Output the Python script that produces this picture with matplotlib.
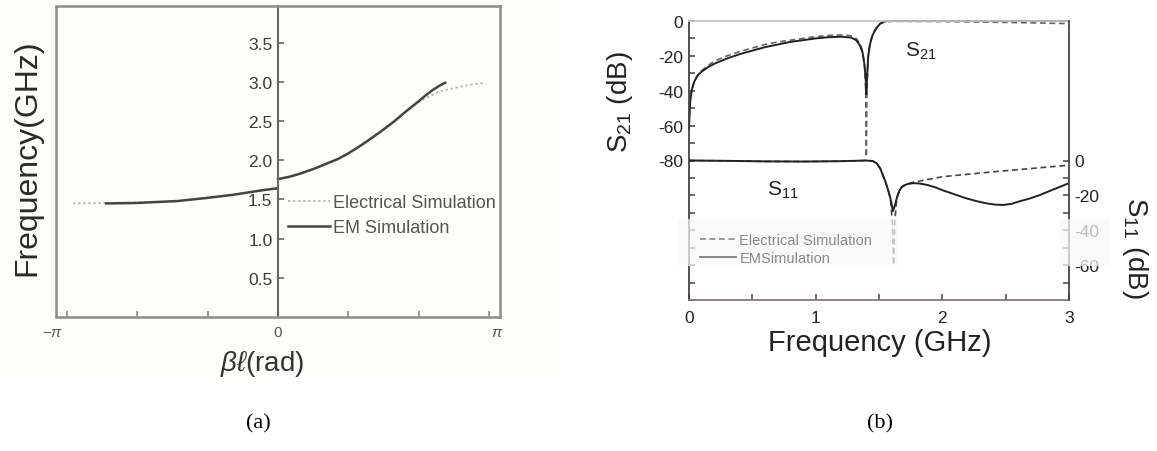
import numpy as np
import matplotlib
matplotlib.use("Agg")
import matplotlib.pyplot as plt
from matplotlib.patches import Rectangle
from matplotlib.transforms import ScaledTranslation

plt.rcParams['font.family'] = ['Liberation Sans', 'DejaVu Sans']
plt.rcParams['mathtext.fontset'] = 'custom'
plt.rcParams['mathtext.rm'] = 'Liberation Sans'
plt.rcParams['mathtext.it'] = 'Liberation Sans:italic'

# ---------------- (a) dispersion diagram ----------------
# left-handed band (negative phase) and right-handed band (positive phase)
beta_lh_circuit = [-3.05, -2.56, -2.13, -1.50, -1.06, -0.67, -0.22, 0.0]
freq_lh_circuit = [1.45, 1.455, 1.46, 1.48, 1.52, 1.56, 1.62, 1.65]
beta_rh_circuit = [0.0, 0.17, 0.33, 0.53, 0.73, 0.90, 1.05, 1.20, 1.32, 1.52, 1.72, 1.90,
                   2.00, 2.13, 2.26, 2.38, 2.50, 2.71, 2.90, 3.08]
freq_rh_circuit = [1.76, 1.79, 1.83, 1.89, 1.96, 2.02, 2.09, 2.17, 2.24, 2.36, 2.49, 2.62,
                   2.69, 2.76, 2.82, 2.87, 2.90, 2.94, 2.97, 2.99]

beta_lh_em = [-2.56, -2.13, -1.50, -1.06, -0.67, -0.22, -0.03]
freq_lh_em = [1.45, 1.455, 1.48, 1.52, 1.56, 1.62, 1.64]
beta_rh_em = [0.0, 0.17, 0.33, 0.53, 0.73, 0.90, 1.05, 1.20, 1.32, 1.52, 1.72, 1.90,
              2.09, 2.20, 2.31, 2.40, 2.49]
freq_rh_em = [1.76, 1.79, 1.83, 1.89, 1.96, 2.02, 2.09, 2.17, 2.24, 2.36, 2.49, 2.62,
              2.75, 2.83, 2.90, 2.95, 2.99]

freq_ticks_a = [0.5, 1.0, 1.5, 2.0, 2.5, 3.0, 3.5]
phase_tick_labels = [r'$-\pi$', '', '', '0', '', '', r'$\pi$']

# ---------------- (b) S-parameters ----------------
f_s21_em = [0, 0.005, 0.01, 0.02, 0.04, 0.07, 0.1, 0.15, 0.2, 0.3, 0.4, 0.5, 0.6,
            0.7, 0.8, 0.9, 1.0, 1.1, 1.2, 1.28, 1.32, 1.35, 1.37, 1.385, 1.395,
            1.40, 1.405, 1.415, 1.43, 1.45, 1.48, 1.51, 1.54, 1.57, 1.6, 2.0, 2.5, 3.0]
s21_em = [-62, -52, -46, -40, -35, -31, -29, -26.5, -24.5, -21.5, -19, -17, -15,
          -13.5, -12, -11, -10, -9.3, -9, -9.5, -11, -14, -18, -25, -33,
          -42, -33, -20, -13, -8, -4, -1.5, -0.4, 0, 0, 0, 0, 0]

f_s21_circuit = [0, 0.01, 0.03, 0.06, 0.1, 0.15, 0.2, 0.3, 0.4, 0.5, 0.6, 0.7, 0.8,
                 0.9, 1.0, 1.1, 1.2, 1.28, 1.32, 1.35, 1.37, 1.385, 1.395, 1.40,
                 1.405, 1.415, 1.43, 1.45, 1.48, 1.51, 1.55, 1.6, 2.0, 2.5, 3.0]
s21_circuit = [-60, -45, -37, -32, -28.5, -25.5, -23, -20, -17.5, -15.5, -13.5, -12, -11,
               -10, -9, -8.3, -8, -8.5, -10, -13, -17, -25, -40, -78,
               -40, -20, -12, -7.5, -4, -1.5, -0.5, -0.2, -0.3, -0.8, -1.5]

f_s11_em = [0, 0.3, 0.6, 0.9, 1.2, 1.4, 1.45, 1.48, 1.51, 1.55, 1.57, 1.59, 1.60, 1.61,
            1.62, 1.63, 1.64, 1.65, 1.66, 1.68, 1.70, 1.73, 1.77, 1.82, 1.88, 1.94, 2.0,
            2.1, 2.19, 2.27, 2.35, 2.42, 2.48, 2.55, 2.61, 2.69, 2.77, 2.88, 3.0]
s11_em = [0, -0.2, -0.5, -0.6, -0.4, 0, -0.3, -1.5, -4.6, -12, -16.5, -21.7, -25, -29,
          -27, -24.5, -21.7, -19.5, -17.5, -15.2, -14.2, -13.4, -13, -13.2, -14, -15.3, -17,
          -19.5, -21.7, -23.3, -24.6, -25.3, -25.5, -24.8, -23.4, -21.8, -19.8, -16.5, -13]

f_s11_circuit = [0, 0.3, 0.6, 0.9, 1.2, 1.4, 1.45, 1.48, 1.51, 1.55, 1.57, 1.59, 1.605,
                 1.615, 1.625, 1.64, 1.66, 1.68, 1.72, 1.77, 2.0, 2.4, 3.0]
s11_circuit = [0, -0.2, -0.5, -0.6, -0.4, 0, -0.3, -1.5, -4.6, -12, -16.5, -22, -35,
               -60, -35, -21.7, -17.5, -15.2, -13.6, -12.5, -9.3, -6.5, -2.7]

s21_ticks = [0, -20, -40, -60, -80]
s11_ticks = [0, -20, -40, -60]
freq_ticks_b = [0, 1, 2, 3]

W, H = 1157, 452
fig = plt.figure(figsize=(W / 100, H / 100), dpi=100)


def px(x, y):
    """figure fraction from pixel position (origin top-left)"""
    return x / W, 1 - y / H


# faint warm tone behind panel (a)
fig.patches.append(Rectangle((0, 1 - 377 / H), 560 / W, 377 / H, transform=fig.transFigure,
                             facecolor='#fdfdf9', edgecolor='none', zorder=-10))

# ================= panel (a) =================
ax1 = fig.add_axes([56 / W, 1 - 318 / H, 444 / W, 311 / H])
ax1.patch.set_alpha(0)
ax1.set_xlim(-3.307, 3.307)
ax1.set_ylim(0, 3.97)

frame_col = '#8c8c8c'
for side in ['top', 'right', 'bottom']:
    ax1.spines[side].set_color(frame_col)
    ax1.spines[side].set_linewidth(1.8)
ax1.spines['left'].set_position(('data', 0))
ax1.spines['left'].set_color('#666666')
ax1.spines['left'].set_linewidth(1.5)
ax1.plot([0, 0], [0, 1], transform=ax1.transAxes, color=frame_col, lw=1.8,
         clip_on=False, solid_capstyle='butt')

ax1.plot(beta_lh_circuit, freq_lh_circuit, color='#b0b0b0', lw=1.3, ls=(0, (1.2, 1.6)),
         label='Electrical Simulation')
ax1.plot(beta_rh_circuit, freq_rh_circuit, color='#b0b0b0', lw=1.3, ls=(0, (1.2, 1.6)))
ax1.plot(beta_lh_em, freq_lh_em, color='#444444', lw=1.8, label='EM Simulation')
ax1.plot(beta_rh_em, freq_rh_em, color='#444444', lw=1.8)

ax1.set_yticks(freq_ticks_a)
ax1.set_yticklabels([f'{v:.1f}' for v in freq_ticks_a])
ax1.set_xticks(np.arange(-3, 4) * np.pi / 3)
ax1.set_xticklabels(phase_tick_labels)
ax1.tick_params(axis='y', direction='in', length=4, width=1.2, color='#666666',
                labelsize=12.5, labelcolor='#3a3a3a', pad=4)
ax1.tick_params(axis='x', direction='in', length=4, width=1.2, color='#8c8c8c',
                labelsize=11, labelcolor='#555555', pad=6)
xl = ax1.get_xticklabels()
xl[0].set_transform(xl[0].get_transform() + ScaledTranslation(-0.14, 0, fig.dpi_scale_trans))
xl[-1].set_transform(xl[-1].get_transform() + ScaledTranslation(0.08, 0, fig.dpi_scale_trans))

leg1 = ax1.legend(loc='upper left', bbox_to_anchor=((288 - 56) / 444, (318 - 195) / 311),
                  frameon=False, fontsize=13, handlelength=2.3, handletextpad=0.2,
                  labelspacing=0.45, borderpad=0, borderaxespad=0)
for t in leg1.get_texts():
    t.set_color('#555555')

fig.text(*px(27, 158), 'Frequency(GHz)', rotation=90, ha='center', va='center',
         fontsize=23, color='#2a2a2a')
fig.text(*px(262, 364), r'$\beta\ell$(rad)', ha='center', va='center',
         fontsize=20, color='#333333')

# ================= panel (b) =================
ax2 = fig.add_axes([689 / W, 1 - 301 / H, 380 / W, 279 / H])
ax2.set_xlim(0, 3)
ax2.set_ylim(-160, 0)
ax3 = ax2.twinx()
ax3.set_ylim(-80, 80)

ax2.spines['left'].set_color('#444444')
ax2.spines['bottom'].set_color('#8a7878')
ax2.spines['top'].set_color('#c4c4bc')
ax2.spines['right'].set_visible(False)
for s in ['left', 'bottom', 'top']:
    ax2.spines[s].set_linewidth(1.3)
ax3.spines['right'].set_color('#444444')
ax3.spines['right'].set_linewidth(1.3)
for s in ['left', 'bottom', 'top']:
    ax3.spines[s].set_visible(False)

dash = (0, (3.5, 2.2))
ax2.plot(f_s21_circuit, s21_circuit, color='#666666', lw=1.2, ls=dash, clip_on=False)
ax2.plot(f_s21_em, s21_em, color='#222222', lw=1.4, clip_on=False)
ax3.plot(f_s11_circuit, s11_circuit, color='#444444', lw=1.2, ls=dash,
         label='Electrical Simulation')
ax3.plot(f_s11_em, s11_em, color='#222222', lw=1.4, label='EMSimulation')

ax2.set_xticks(freq_ticks_b)
ax2.set_xticklabels([str(v) for v in freq_ticks_b])
ax2.set_xticks(np.arange(0.5, 3, 1.0), minor=True)
ax2.set_yticks(np.arange(-160, 1, 20))
ax2.set_yticklabels([str(v) if v in s21_ticks else '' for v in np.arange(-160, 1, 20)])
ax2.set_yticks(np.arange(-150, 0, 20), minor=True)
ax2.tick_params(which='both', direction='in', length=4, width=1.1, color='#444444',
                labelsize=12.5, labelcolor='#222222')
ax2.tick_params(axis='y', pad=4)
ax2.tick_params(axis='x', pad=7)

ax3.set_yticks(s11_ticks)
ax3.set_yticklabels([str(v) for v in s11_ticks])
ax3.set_yticks([-10, -30, -50, -70], minor=True)
ax3.tick_params(which='both', direction='in', length=4, width=1.1, color='#444444',
                labelsize=12.5, labelcolor='#222222', pad=4)

ax2.text(1.705, -20, r'S$_{21}$', fontsize=15, color='#222222', va='baseline')
ax3.text(0.616, -19.4, r'S$_{11}$', fontsize=15, color='#222222', va='baseline')

# washed-out panels over the lower part of the plot
for x0, x1 in [(678, 897), (1060, 1110)]:
    ax3.add_patch(Rectangle(((x0 - 689) / 380, (301 - 267) / 279),
                            (x1 - x0) / 380, 47 / 279, transform=ax3.transAxes,
                            facecolor='#f9f9f9', edgecolor='none', alpha=0.72,
                            zorder=10, clip_on=False))

leg2 = ax3.legend(loc='upper left', bbox_to_anchor=((700 - 689) / 380, (301 - 234) / 279),
                  frameon=False, fontsize=10.5, handlelength=2.5, handletextpad=0.2,
                  labelspacing=0.3, borderpad=0, borderaxespad=0)
leg2.set_zorder(11)
for t in leg2.get_texts():
    t.set_color('#888888')
for ln in leg2.get_lines():
    ln.set_color('#888888')

fig.text(*px(620, 102), r'S$_{21}$ (dB)', rotation=90, ha='center', va='center',
         fontsize=20, color='#222222')
fig.text(*px(1135, 248), r'S$_{11}$ (dB)', rotation=270, ha='center', va='center',
         fontsize=20, color='#222222')
fig.text(*px(880, 343), 'Frequency (GHz)', ha='center', va='center',
         fontsize=21, color='#222222')

# panel captions
fig.text(*px(258, 424), '(a)', ha='center', va='center', fontsize=16,
         family='Liberation Serif')
fig.text(*px(880, 424), '(b)', ha='center', va='center', fontsize=16,
         family='Liberation Serif')

fig.savefig('out.png', dpi=100)
